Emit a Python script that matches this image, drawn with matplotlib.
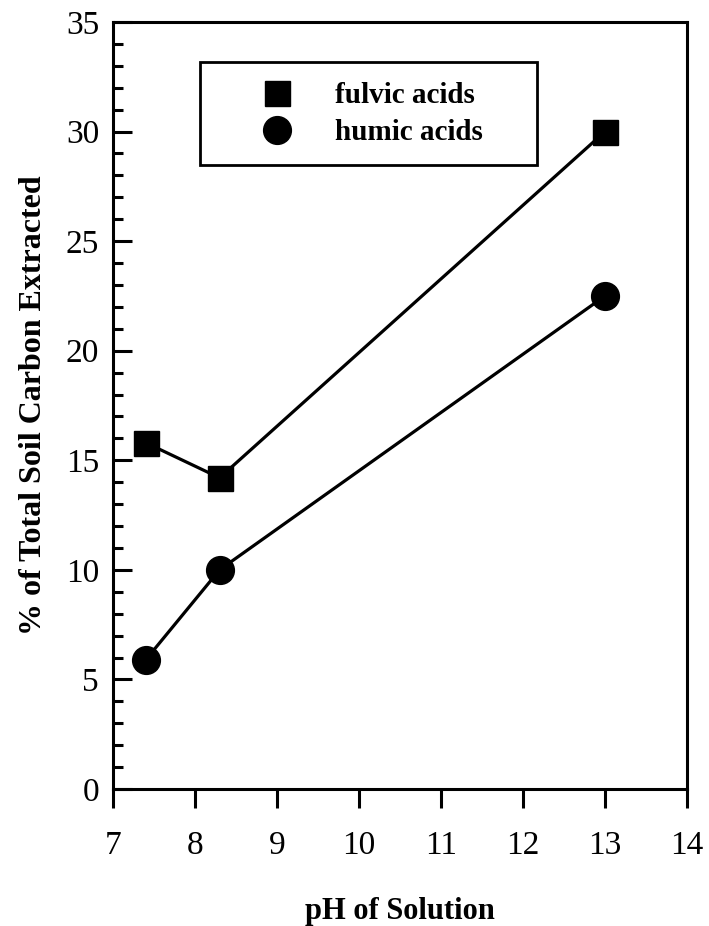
import matplotlib
matplotlib.use("Agg")
import matplotlib.pyplot as plt
from matplotlib.lines import Line2D
from matplotlib.patches import Rectangle
from matplotlib.ticker import MultipleLocator

ph = [7.4, 8.3, 13.0]
fulvic = [15.8, 14.2, 30.0]
humic = [5.9, 10.0, 22.5]
series_labels = ["fulvic acids", "humic acids"]
x_ticks = [7, 8, 9, 10, 11, 12, 13, 14]
y_ticks = [0, 5, 10, 15, 20, 25, 30, 35]

plt.rcParams['font.family'] = ['Liberation Serif', 'DejaVu Serif']

fig = plt.figure(figsize=(7.09, 9.26), dpi=100)
ax = fig.add_axes([113/709, 1-789/926, (687-113)/709, (789-22)/926])

ax.plot(ph, fulvic, color='black', lw=2.3, marker='s', ms=18, mfc='black', mec='black', zorder=3, clip_on=False)
ax.plot(ph, humic, color='black', lw=2.3, marker='o', ms=20, mfc='black', mec='black', zorder=3, clip_on=False)

ax.set_xlim(7, 14)
ax.set_ylim(0, 35)
ax.set_xticks(x_ticks)
ax.set_yticks(y_ticks)
ax.yaxis.set_minor_locator(MultipleLocator(1))
ax.tick_params(axis='x', which='major', direction='out', length=14, width=2.2, labelsize=24, pad=16)
ax.tick_params(axis='y', which='major', direction='in', length=14, width=2.2, labelsize=24, pad=10)
ax.tick_params(axis='y', which='minor', direction='in', length=7, width=2.2)
for s in ax.spines.values():
    s.set_linewidth(2.2)

ax.set_xlabel("pH of Solution", fontsize=22, fontweight='bold', labelpad=26)
ax.set_ylabel("% of Total Soil Carbon Extracted", fontsize=23, fontweight='bold', labelpad=13)

# legend frame
x0, x1 = (200-113)/574, (537-113)/574
y0, y1 = (789-165)/767, (789-62)/767
ax.add_patch(Rectangle((x0, y0), x1-x0, y1-y0, transform=ax.transAxes, fill=False, ec='black', lw=2, zorder=4))
handles = [Line2D([], [], ls='none', marker='s', ms=18, color='black'),
           Line2D([], [], ls='none', marker='o', ms=20, color='black')]
leg = ax.legend(handles, series_labels, loc='upper left', bbox_to_anchor=((255-113)/574, (789-82)/767),
                frameon=False, prop={'weight': 'bold', 'size': 21}, handletextpad=1.24,
                labelspacing=0.36, borderaxespad=0, borderpad=0, handlelength=1.5)

fig.savefig("out.png", dpi=100)
